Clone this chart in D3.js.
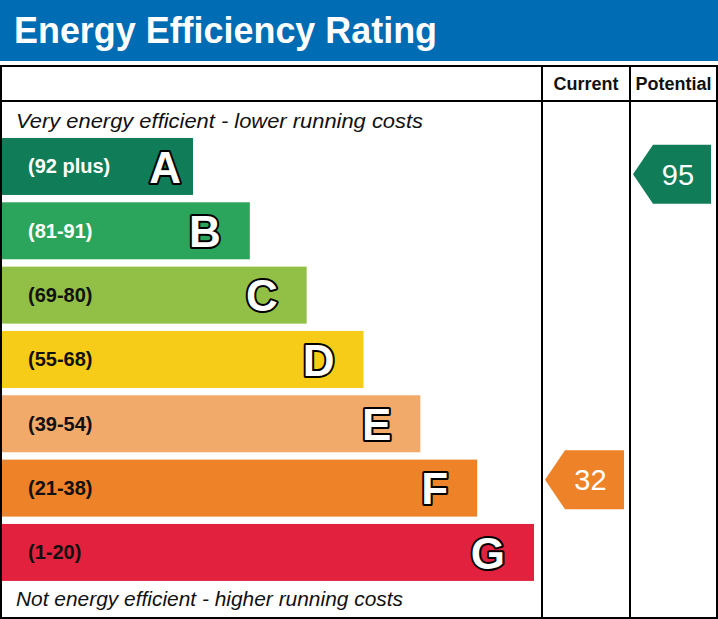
<!DOCTYPE html>
<html lang="en">
<head>
    <meta charset="UTF-8">
    <title>Energy Efficiency Rating</title>
    <script src="https://d3js.org/d3.v7.min.js"></script>
    <style>
        body { margin: 0; background: #fff; }
        text { font-family: "Liberation Sans", Arial, sans-serif; }
    </style>
</head>
<body>
    <svg id="chart" width="718" height="619"></svg>

    <script>
        // Chart data
        const bands = ["A", "B", "C", "D", "E", "F", "G"];
        const ranges = ["(92 plus)", "(81-91)", "(69-80)", "(55-68)", "(39-54)", "(21-38)", "(1-20)"];
        const currentRating = 32;
        const potentialRating = 95;
        const columns = ["Current", "Potential"];

        const svg = d3.select("#chart"),
            width = +svg.attr("width"),
            height = +svg.attr("height");

        const color = d3.scaleOrdinal()
            .domain(bands)
            .range(["#117d58", "#2ca55c", "#92bf45", "#f6cc18", "#f2aa6b", "#ed8229", "#e2213e"]);
        const labelColor = d3.scaleOrdinal()
            .domain(bands)
            .range(["#fff", "#fff", "#111", "#111", "#111", "#111", "#111"]);

        // bar rows
        const y = d3.scaleBand()
            .domain(bands)
            .range([134.3, 584.6])
            .paddingInner(0.114)
            .paddingOuter(0.057);

        // bar right ends
        const xEnd = d3.scalePoint()
            .domain(bands)
            .range([193, 534]);

        // rating value -> vertical position of the arrows
        const yRating = d3.scaleLinear()
            .domain([1, 100])
            .range([630, 150]);

        // header band
        svg.append("rect")
            .attr("x", 0).attr("y", 0)
            .attr("width", width).attr("height", 61)
            .attr("fill", "#006cb4");
        svg.append("text")
            .attr("x", 14).attr("y", 43)
            .attr("fill", "#fff")
            .attr("font-size", 36)
            .attr("font-weight", "bold")
            .attr("textLength", 423)
            .attr("lengthAdjust", "spacingAndGlyphs")
            .text("Energy Efficiency Rating");

        // bars
        const rows = svg.selectAll(".band")
            .data(bands)
            .enter().append("g")
            .attr("class", "band");

        rows.append("rect")
            .attr("x", 2)
            .attr("y", d => y(d))
            .attr("width", d => xEnd(d) - 2)
            .attr("height", y.bandwidth())
            .attr("fill", d => color(d));

        rows.append("text")
            .attr("x", 28)
            .attr("y", d => y(d) + y.bandwidth() / 2)
            .attr("dy", "0.35em")
            .attr("font-size", 20)
            .attr("font-weight", "bold")
            .attr("fill", d => labelColor(d))
            .text((d, i) => ranges[i]);

        rows.append("text")
            .attr("x", (d, i) => xEnd(d) - (i === 0 ? 12 : 29))
            .attr("y", d => y(d) + y.bandwidth() / 2)
            .attr("dy", "0.37em")
            .attr("text-anchor", "end")
            .attr("font-family", "'DejaVu Sans', sans-serif")
            .attr("font-size", 44)
            .attr("font-weight", "bold")
            .attr("fill", "#fff")
            .attr("stroke", "#000")
            .attr("stroke-width", 4)
            .attr("stroke-linejoin", "round")
            .attr("paint-order", "stroke")
            .text(d => d);

        // captions
        svg.append("text")
            .attr("x", 16).attr("y", 128)
            .attr("font-size", 21)
            .attr("font-style", "italic")
            .attr("fill", "#111")
            .attr("textLength", 407)
            .attr("lengthAdjust", "spacingAndGlyphs")
            .text("Very energy efficient - lower running costs");
        svg.append("text")
            .attr("x", 16).attr("y", 606)
            .attr("font-size", 21)
            .attr("font-style", "italic")
            .attr("fill", "#111")
            .attr("textLength", 387)
            .attr("lengthAdjust", "spacingAndGlyphs")
            .text("Not energy efficient - higher running costs");

        // table grid
        const colX = [542, 630, 717];
        const grid = svg.append("g")
            .attr("stroke", "#000")
            .attr("stroke-width", 2)
            .attr("fill", "none");
        grid.append("rect")
            .attr("x", 1).attr("y", 66)
            .attr("width", 716).attr("height", 552);
        grid.append("line")
            .attr("x1", 1).attr("x2", 717)
            .attr("y1", 101).attr("y2", 101);
        grid.selectAll(".col")
            .data(colX.slice(0, 2))
            .enter().append("line")
            .attr("x1", d => d).attr("x2", d => d)
            .attr("y1", 66).attr("y2", 618);

        svg.selectAll(".colhead")
            .data(columns)
            .enter().append("text")
            .attr("x", (d, i) => (colX[i] + colX[i + 1]) / 2)
            .attr("y", 90)
            .attr("text-anchor", "middle")
            .attr("font-size", 18)
            .attr("font-weight", "bold")
            .attr("fill", "#111")
            .text(d => d);

        // rating arrows
        function bandOf(v) {
            if (v >= 92) return "A";
            if (v >= 81) return "B";
            if (v >= 69) return "C";
            if (v >= 55) return "D";
            if (v >= 39) return "E";
            if (v >= 21) return "F";
            return "G";
        }

        const arrows = [currentRating, potentialRating];
        const aH = 59, tip = 20;
        arrows.forEach((v, i) => {
            const x0 = colX[i] + 3, x1 = colX[i + 1] - 6;
            const cy = yRating(v);
            svg.append("path")
                .attr("d", `M${x0},${cy} L${x0 + tip},${cy - aH / 2} L${x1},${cy - aH / 2} L${x1},${cy + aH / 2} L${x0 + tip},${cy + aH / 2} Z`)
                .attr("fill", color(bandOf(v)));
            svg.append("text")
                .attr("x", (x0 + tip + x1) / 2 - 4)
                .attr("y", cy)
                .attr("dy", "0.36em")
                .attr("text-anchor", "middle")
                .attr("font-size", 29)
                .attr("fill", "#fff")
                .text(v);
        });
    </script>
</body>
</html>
